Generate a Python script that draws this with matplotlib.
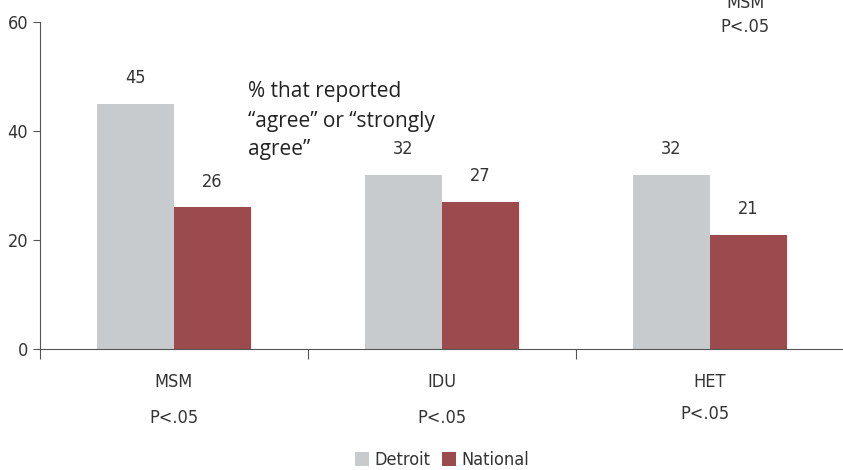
import matplotlib.pyplot as plt
import numpy as np

categories = ["MSM", "IDU", "HET"]
detroit = [45, 32, 32]
national = [26, 27, 21]
pvals = ["P<.05", "P<.05", "P<.05"]
note_lines = ["% that reported", "\u201cagree\u201d or \u201cstrongly", "agree\u201d"]

gray = "#c8cbce"
red = "#9b4b4d"

plt.rcParams['font.family'] = ['DejaVu Sans']
plt.rcParams['font.stretch'] = 'condensed'

fig = plt.figure(figsize=(8.43, 4.70), dpi=100)
ax = fig.add_axes([40 / 843, 1 - 349 / 470, 804 / 843, 327 / 470])

x = np.arange(len(categories))
w = 0.287
b1 = ax.bar(x - w / 2, detroit, w, color=gray, label="Detroit")
b2 = ax.bar(x + w / 2, national, w, color=red, label="National")

for bars, vals in ((b1, detroit), (b2, national)):
    for r, v in zip(bars, vals):
        ax.annotate(str(v), (r.get_x() + r.get_width() / 2, v), xytext=(0, 12),
                    textcoords="offset points", ha="center", va="bottom",
                    fontsize=13, color="#333333")

ax.set_xlim(-0.5, 2.5)
ax.set_ylim(0, 60)
ax.set_yticks([0, 20, 40, 60])
ax.tick_params(axis='y', labelsize=13, length=5, color="#555555", labelcolor="#333333")
ax.set_xticks([-0.5, 0.5, 1.5, 2.5])
ax.set_xticklabels([])
ax.tick_params(axis='x', length=7, color="#555555")
for s in ("top", "right"):
    ax.spines[s].set_visible(False)
for s in ("left", "bottom"):
    ax.spines[s].set_color("#555555")

for i, (c, p) in enumerate(zip(categories, pvals)):
    ax.text(i, -0.1, c, transform=ax.get_xaxis_transform(), ha="center", va="center",
            fontsize=13, color="#333333")
    ax.text(i - 0.02 * (i == 2), -0.21 + 0.01 * (i == 2), p,
            transform=ax.get_xaxis_transform(), ha="center", va="center",
            fontsize=13, color="#333333")

# note, one line at a time
for k, line in enumerate(note_lines):
    fig.text(248 / 843, 1 - (92 + 29 * k) / 470, line, ha="left", va="center",
             fontsize=15, family=['Open Sans', 'DejaVu Sans'], stretch='normal',
             color="#222222")

fig.text(745 / 843, 1 - 3 / 470, "MSM", ha="center", va="center", fontsize=13, color="#333333")
fig.text(745 / 843, 1 - 27 / 470, "P<.05", ha="center", va="center", fontsize=13, color="#333333")

ax.legend(loc="center", bbox_to_anchor=(0.5, (1 - 460 / 470 - (1 - 349 / 470)) / (327 / 470)),
          ncol=2, frameon=False, fontsize=13, handlelength=0.8, handleheight=0.8,
          handletextpad=0.3, columnspacing=0.6, labelcolor="#333333")

fig.savefig("out.png", dpi=100)
